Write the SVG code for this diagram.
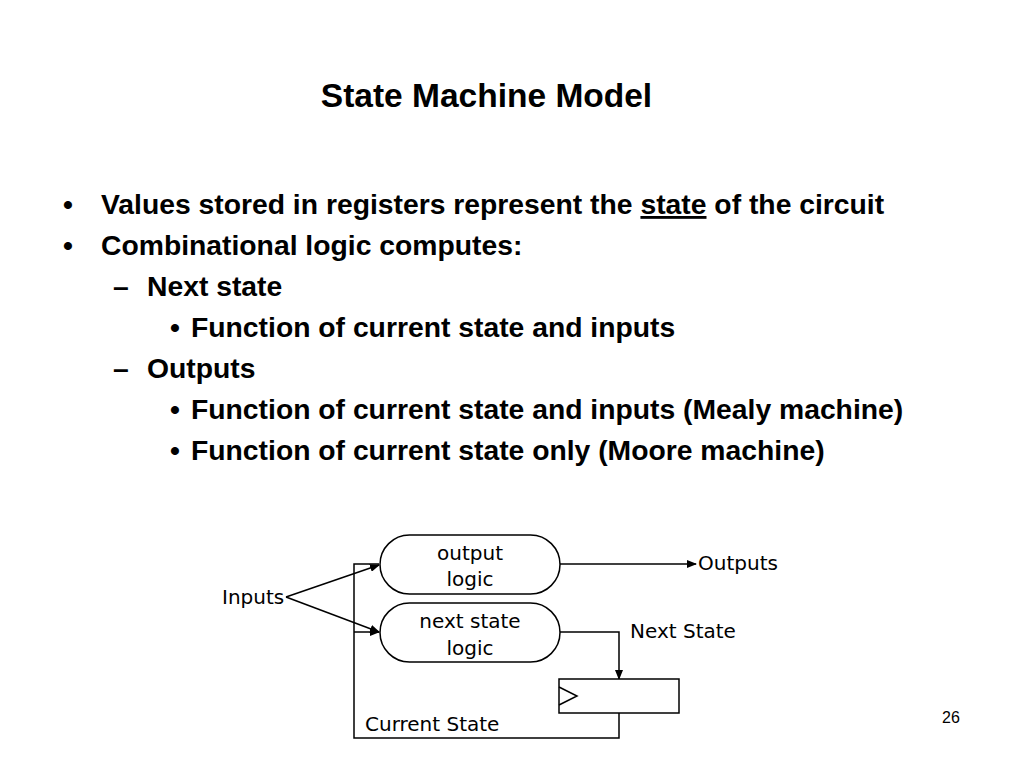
<svg xmlns="http://www.w3.org/2000/svg" width="1024" height="768" viewBox="0 0 1024 768">
<style>
.t{font-family:"Liberation Sans",Arial,sans-serif;font-weight:bold;fill:#000}
.b{font-size:28.3px}
.d{font-family:"DejaVu Sans",Tahoma,sans-serif;font-size:20px;fill:#000}
.ln{fill:none;stroke:#000;stroke-width:1.5}
.node{fill:#fff;stroke:#000;stroke-width:1.5}
</style>
<defs>
<marker id="ah" markerWidth="10" markerHeight="8" refX="9" refY="4" orient="auto" markerUnits="userSpaceOnUse">
<path d="M0,0 L10,4 L0,8 z" fill="#000"/>
</marker>
</defs>
<rect width="1024" height="768" fill="#fff"/>
<text class="t" x="486.5" y="107" font-size="33.5" text-anchor="middle">State Machine Model</text>
<g class="t b">
<text x="63" y="214">•</text>
<text x="101" y="214">Values stored in registers represent the <tspan text-decoration="underline">state</tspan> of the circuit</text>
<text x="63" y="255">•</text>
<text x="101" y="255">Combinational logic computes:</text>
<text x="113" y="296">–</text>
<text x="147" y="296">Next state</text>
<text x="170" y="337">•</text>
<text x="191" y="337">Function of current state and inputs</text>
<text x="113" y="378">–</text>
<text x="147" y="378">Outputs</text>
<text x="170" y="419">•</text>
<text x="191" y="419">Function of current state and inputs (Mealy machine)</text>
<text x="170" y="460">•</text>
<text x="191" y="460">Function of current state only (Moore machine)</text>
</g>
<text x="951" y="723" font-family="Liberation Sans,Arial,sans-serif" font-size="16" text-anchor="middle">26</text>

<g id="connectors">
<line class="ln" x1="286" y1="597" x2="379" y2="565" marker-end="url(#ah)"/>
<line class="ln" x1="286" y1="597" x2="379" y2="632" marker-end="url(#ah)"/>
<polyline class="ln" points="379,564 354,564 354,738 619,738 619,713"/>
<polyline class="ln" points="354,632 379,632" marker-end="url(#ah)"/>
<line class="ln" x1="560" y1="564" x2="696" y2="564" marker-end="url(#ah)"/>
<polyline class="ln" points="560,632 619,632 619,679" marker-end="url(#ah)"/>
</g>

<g id="output-logic">
<rect class="node" x="380" y="535" width="180" height="59" rx="29.5" ry="29.5"/>
<text class="d" x="470" y="560" text-anchor="middle">output</text>
<text class="d" x="470" y="586" text-anchor="middle">logic</text>
</g>
<g id="next-state-logic">
<rect class="node" x="380" y="603" width="180" height="59" rx="29.5" ry="29.5"/>
<text class="d" x="470" y="628" text-anchor="middle">next state</text>
<text class="d" x="470" y="655" text-anchor="middle">logic</text>
</g>
<g id="register">
<rect class="node" x="559" y="679" width="120" height="34"/>
<polyline class="ln" points="559,687 577,696 559,705"/>
</g>
<g id="labels">
<text class="d" x="222" y="604">Inputs</text>
<text class="d" x="698" y="570">Outputs</text>
<text class="d" x="630" y="638">Next State</text>
<text class="d" x="365" y="731">Current State</text>
</g>
</svg>
